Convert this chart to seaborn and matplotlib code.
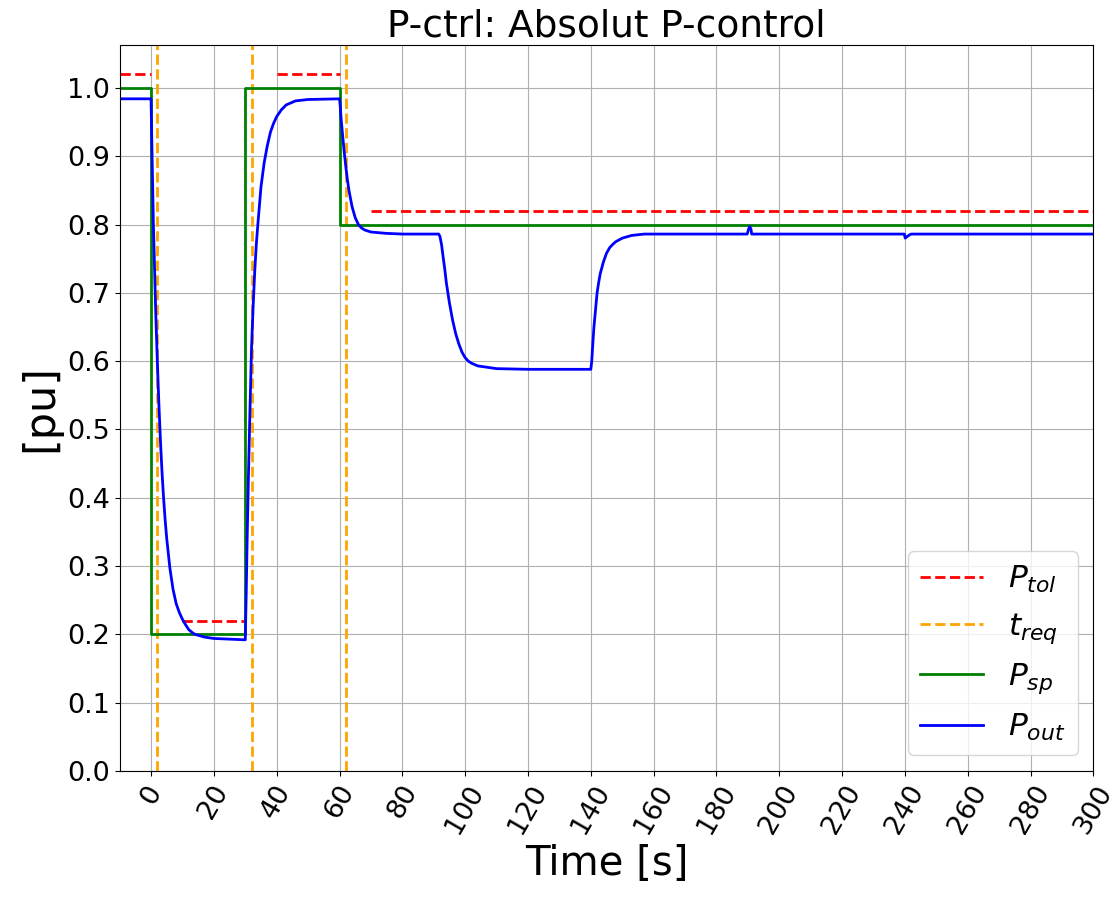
import matplotlib
matplotlib.use("Agg")
import matplotlib.pyplot as plt
import seaborn as sns
import pandas as pd
from matplotlib.lines import Line2D

# ---- data ----
# tolerance band segments (start, end, level)
tol_start = [-10, 10, 40, 70]
tol_end = [0, 30, 60, 300]
tol_level = [1.02, 0.22, 1.02, 0.82]

# required response times
t_req = [2, 32, 62]

# setpoint (step)
sp_time = [-10, 0, 0, 30, 30, 60, 60, 300]
sp_value = [1.0, 1.0, 0.2, 0.2, 1.0, 1.0, 0.8, 0.8]

# measured output
out_time = [-10, 0, 0.25, 0.5, 0.75, 1, 1.5, 2, 2.5, 3, 3.5, 4, 4.5, 5, 6, 7, 8, 9, 10,
            11, 12, 13, 14, 17, 20, 25, 30,
            30.3, 30.6, 31, 31.5, 32, 32.5, 33, 33.5, 34, 35, 36, 37, 38, 39, 40, 41.5,
            43, 46, 50, 60,
            60.2, 60.5, 61, 61.5, 62, 62.5, 63, 64, 65, 66, 67, 68, 70, 75, 80, 91.6,
            92, 92.5, 93, 93.5, 94, 95, 96, 97, 98, 99, 100, 101, 102, 104, 107, 110,
            120, 140,
            140.3, 140.7, 141, 141.5, 142, 142.5, 143, 144, 145, 146, 147, 148, 150,
            153, 157,
            189.8, 190.2, 190.6, 191.0, 191.2, 220,
            239.8, 240.1, 240.6, 241.5, 242, 300]
out_value = [0.984, 0.984, 0.92, 0.86, 0.80, 0.757, 0.67, 0.60, 0.537, 0.483, 0.437,
             0.399, 0.367, 0.34, 0.297, 0.266, 0.245, 0.232, 0.222,
             0.214, 0.207, 0.203, 0.200, 0.196, 0.194, 0.193, 0.192,
             0.26, 0.34, 0.43, 0.53, 0.62, 0.68, 0.73, 0.77, 0.80, 0.855, 0.89, 0.915,
             0.935, 0.948, 0.958, 0.968, 0.975, 0.981, 0.983, 0.984,
             0.975, 0.955, 0.93, 0.906, 0.885, 0.866, 0.85, 0.826, 0.81, 0.80, 0.795,
             0.792, 0.789, 0.787, 0.786, 0.786,
             0.782, 0.770, 0.752, 0.735, 0.715, 0.685, 0.66, 0.64, 0.625, 0.613, 0.605,
             0.600, 0.597, 0.593, 0.591, 0.589, 0.588, 0.588,
             0.60, 0.63, 0.65, 0.675, 0.70, 0.715, 0.728, 0.745, 0.758, 0.766, 0.771,
             0.775, 0.78, 0.784, 0.786,
             0.786, 0.793, 0.797, 0.793, 0.786, 0.786,
             0.786, 0.780, 0.782, 0.785, 0.786, 0.786]

x_ticks = list(range(0, 301, 20))
y_ticks = [0.0, 0.1, 0.2, 0.3, 0.4, 0.5, 0.6, 0.7, 0.8, 0.9, 1.0]

# ---- figure ----
fig, ax = plt.subplots(figsize=(11.18, 8.97), dpi=100)
fig.subplots_adjust(left=0.107, right=0.978, top=0.950, bottom=0.1405)

LW = 2.0
tol_df = pd.DataFrame({
    "t": [v for pair in zip(tol_start, tol_end) for v in pair],
    "p": [v for lvl in tol_level for v in (lvl, lvl)],
    "seg": [i for i in range(len(tol_level)) for _ in range(2)],
})
sns.lineplot(data=tol_df, x="t", y="p", units="seg", estimator=None,
             color="red", linestyle="--", linewidth=LW, ax=ax, legend=False)

for tr in t_req:
    ax.axvline(tr, color="orange", linestyle="--", linewidth=LW)

sns.lineplot(x=sp_time, y=sp_value, estimator=None, sort=False,
             color="green", linewidth=LW, ax=ax)
sns.lineplot(x=out_time, y=out_value, estimator=None, sort=False,
             color="blue", linewidth=LW, ax=ax)

ax.set_xlim(-10, 300)
ax.set_ylim(0, 1.063)
ax.set_xticks(x_ticks)
ax.set_yticks(y_ticks)
ax.set_xticklabels([str(v) for v in x_ticks], rotation=60, fontsize=19.5)
ax.set_yticklabels([f"{v:.1f}" for v in y_ticks], fontsize=19.5)
ax.grid(True, color="#b0b0b0", linewidth=0.8)
ax.set_axisbelow(True)

ax.set_title("P-ctrl: Absolut P-control", fontsize=27)
ax.set_xlabel("Time [s]", fontsize=29)
ax.set_ylabel("[pu]", fontsize=31)

handles = [
    Line2D([], [], color="red", linestyle="--", linewidth=LW),
    Line2D([], [], color="orange", linestyle="--", linewidth=LW),
    Line2D([], [], color="green", linewidth=LW),
    Line2D([], [], color="blue", linewidth=LW),
]
labels = [r"$P_{tol}$", r"$t_{req}$", r"$P_{sp}$", r"$P_{out}$"]
ax.legend(handles, labels, loc="lower right", fontsize=22.5)

fig.savefig("out.png", dpi=100)
